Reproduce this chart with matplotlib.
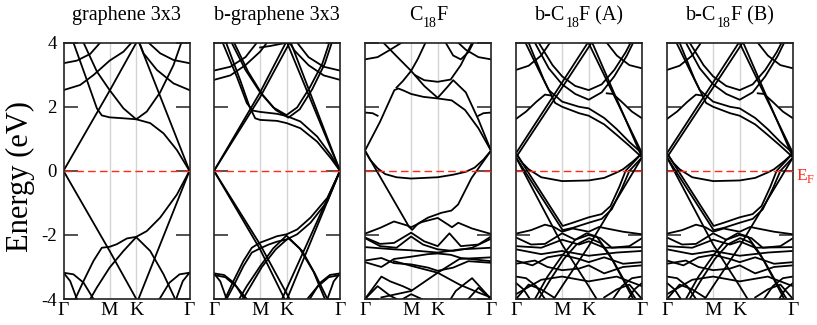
import matplotlib
matplotlib.use("Agg")
import matplotlib.pyplot as plt

plt.rcParams["font.family"] = ["Liberation Serif", "DejaVu Serif"]
plt.rcParams["axes.unicode_minus"] = False

# titles as (text, is_subscript) pieces, the subscripts sit low like in the source
titles = [
    [("graphene 3x3", False)],
    [("b-graphene 3x3", False)],
    [("C", False), ("18", True), ("F", False)],
    [("b-C", False), ("18", True), ("F (A)", False)],
    [("b-C", False), ("18", True), ("F (B)", False)],
]
kticks = [0.0, 0.366, 0.577, 1.0]
klabels = ["Γ", "M", "K", "Γ"]
yticks = [-4, -2, 0, 2, 4]

# bands as (k, E) points, k runs Γ(0) - M - K - Γ(1)
graphene_bands = [
    [(0, 0), (0.366, 2.5), (0.585, 4.05)],
    [(0.595, 4.05), (1, 0)],
    [(0, 0), (0.366, -2.5), (0.585, -4.05)],
    [(0.59, -4.05), (1, 0)],
    [(0.079, 4.0), (0.185, 2.84), (0.265, 1.95), (0.304, 1.73), (0.366, 1.67), (0.476, 1.64),
     (0.577, 1.61), (0.688, 1.49), (0.794, 1.17), (0.9, 0.65), (1, 0)],
    [(0.159, 4.0), (0.265, 3.1), (0.366, 2.52), (0.476, 1.95), (0.577, 1.61), (0.661, 1.85),
     (0.767, 2.45), (0.873, 3.3), (0.935, 4.0)],
    [(0, 3.36), (0.106, 3.44), (0.212, 3.65), (0.291, 4.0)],
    [(0, 2.52), (0.132, 2.68), (0.238, 2.99), (0.366, 3.44), (0.476, 3.72), (0.54, 4.0)],
    [(1, 3.36), (0.873, 3.46), (0.767, 3.67), (0.675, 4.0)],
    [(1, 2.52), (0.873, 2.73), (0.741, 3.15), (0.635, 3.67), (0.603, 4.0)],
    [(1, 0), (0.9, -0.74), (0.767, -1.46), (0.661, -1.88), (0.577, -2.06), (0.503, -2.11),
     (0.423, -2.29), (0.366, -2.37), (0.304, -2.4), (0.238, -2.81), (0.159, -3.44), (0.093, -4.0)],
    [(0.212, -4.0), (0.265, -3.64), (0.366, -3.02), (0.476, -2.5), (0.577, -2.07), (0.688, -2.5),
     (0.794, -3.23), (0.886, -4.0)],
    [(0, -3.18), (0.079, -3.23), (0.159, -3.49), (0.238, -4.0)],
    [(0, -3.18), (0.053, -3.44), (0.106, -4.0)],
    [(1, -3.18), (0.921, -3.23), (0.841, -3.49), (0.762, -4.0)],
    [(1, -3.18), (0.947, -3.44), (0.894, -4.0)],
]

bgraphene_bands = [
    [(0, 0), (0.366, 2.45), (0.57, 4.0)],
    [(0, 0), (0.366, 2.3), (0.6, 4.0)],
    [(0.58, 4.0), (1, 0)],
    [(0.61, 4.0), (1, 0)],
    [(0, 0), (0.366, -2.45), (0.56, -4.0)],
    [(0, 0), (0.366, -2.3), (0.6, -4.0)],
    [(0.58, -4.0), (1, 0)],
    [(0.54, -4.0), (1, 0)],
    [(0.069, 4.0), (0.181, 2.94), (0.261, 2.11), (0.309, 1.88), (0.366, 1.84), (0.5, 1.78),
     (0.577, 1.71), (0.686, 1.54), (0.819, 1.07), (0.926, 0.5), (1, 0)],
    [(0.096, 4.0), (0.207, 2.84), (0.282, 2.0), (0.327, 1.64), (0.366, 1.59), (0.5, 1.56),
     (0.577, 1.49), (0.686, 1.33), (0.819, 0.91), (0.926, 0.4), (1, 0)],
    [(0.14, 4.0), (0.25, 3.15), (0.366, 2.45), (0.47, 1.98), (0.575, 1.74), (0.66, 1.98),
     (0.76, 2.6), (0.86, 3.35), (0.915, 4.0)],
    [(0.16, 4.0), (0.27, 3.1), (0.38, 2.4), (0.49, 1.9), (0.59, 1.66), (0.68, 1.92),
     (0.78, 2.55), (0.88, 3.35), (0.935, 4.0)],
    [(0, 3.13), (0.13, 3.25), (0.25, 3.55), (0.34, 4.0)],
    [(0, 2.84), (0.13, 2.98), (0.25, 3.3), (0.366, 3.72), (0.42, 4.0)],
    [(1, 3.13), (0.87, 3.25), (0.75, 3.55), (0.66, 4.0)],
    [(1, 2.84), (0.87, 2.98), (0.75, 3.3), (0.64, 3.75), (0.6, 4.0)],
    [(0.366, 3.85), (0.45, 3.9), (0.577, 4.0)],
    [(1, 0), (0.9, -0.84), (0.766, -1.46), (0.66, -1.83), (0.577, -1.98), (0.5, -2.04),
     (0.434, -2.14), (0.366, -2.24), (0.3, -2.4), (0.234, -2.81), (0.154, -3.44), (0.088, -4.0)],
    [(1, 0), (0.9, -0.95), (0.766, -1.62), (0.66, -1.98), (0.577, -2.14), (0.5, -2.21),
     (0.434, -2.3), (0.366, -2.42), (0.3, -2.55), (0.234, -2.97), (0.154, -3.6), (0.1, -4.0)],
    [(0.2, -4.0), (0.26, -3.6), (0.366, -2.98), (0.47, -2.42), (0.575, -2.02), (0.68, -2.42),
     (0.79, -3.15), (0.88, -4.0)],
    [(0.23, -4.0), (0.29, -3.6), (0.38, -3.0), (0.49, -2.45), (0.59, -2.1), (0.7, -2.5),
     (0.8, -3.2), (0.9, -4.0)],
    [(0, -3.2), (0.08, -3.25), (0.16, -3.5), (0.24, -4.0)],
    [(0, -3.25), (0.09, -3.32), (0.18, -3.62), (0.26, -4.0)],
    [(0, -3.2), (0.05, -3.45), (0.1, -4.0)],
    [(1, -3.2), (0.92, -3.25), (0.84, -3.5), (0.76, -4.0)],
    [(1, -3.25), (0.91, -3.32), (0.82, -3.62), (0.74, -4.0)],
    [(1, -3.2), (0.95, -3.45), (0.9, -4.0)],
]

c18f_bands = [
    [(0, 0.63), (0.119, 1.53), (0.233, 2.52), (0.265, 2.57), (0.31, 2.5), (0.366, 2.4),
     (0.463, 2.31), (0.577, 2.26), (0.688, 2.2), (0.794, 1.9), (0.9, 1.33), (1, 0.63)],
    [(0.146, 4.0), (0.25, 3.58), (0.366, 3.12), (0.47, 2.65), (0.577, 2.28), (0.65, 2.6),
     (0.70, 2.83), (0.8, 2.45), (0.9, 1.6), (1, 0.63)],
    [(0.48, 4.0), (0.42, 3.5), (0.366, 3.12), (0.3, 2.8), (0.25, 2.6)],
    [(0.4, 2.98), (0.47, 2.83), (0.577, 2.78), (0.68, 2.85), (0.76, 3.3), (0.85, 4.0)],
    [(0, 3.48), (0.1, 3.55), (0.2, 3.78), (0.29, 4.0)],
    [(1, 3.48), (0.9, 3.55), (0.8, 3.78), (0.74, 4.0)],
    [(0.64, 4.0), (0.7, 3.6), (0.76, 3.48), (0.82, 3.7), (0.86, 4.0)],
    [(0, 1.82), (0.06, 1.8), (0.1, 1.72)],
    [(1, 1.82), (0.94, 1.8), (0.9, 1.72)],
    [(0, 0.63), (0.04, 0.35), (0.1, 0.08), (0.16, -0.1), (0.25, -0.2), (0.366, -0.24),
     (0.577, -0.2), (0.7, -0.12), (0.8, -0.03), (0.87, 0.1), (0.94, 0.35), (1, 0.63)],
    [(0, 0.63), (0.35, -1.75), (0.375, -1.84), (0.42, -1.65), (0.5, -1.46), (0.606, -1.31),
     (0.686, -1.24), (0.739, -1.05), (0.793, -0.63), (0.846, -0.22), (0.886, 0.0), (1, 0.63)],
    [(0, -1.96), (0.12, -1.78), (0.23, -1.58), (0.33, -1.7), (0.366, -1.76), (0.45, -1.6),
     (0.577, -1.47), (0.66, -1.68), (0.69, -1.76), (0.74, -1.62), (0.85, -1.8), (1, -1.97)],
    [(0, -2.08), (0.12, -2.28), (0.23, -2.25), (0.366, -1.93), (0.47, -2.2), (0.577, -2.35),
     (0.67, -1.95), (0.76, -2.35), (0.9, -2.3), (1, -2.05)],
    [(0, -2.1), (0.12, -2.35), (0.25, -2.4), (0.366, -2.05), (0.46, -2.3), (0.577, -2.45),
     (0.7, -2.5), (0.85, -2.4), (1, -2.12)],
    [(0, -2.38), (0.23, -2.45), (0.366, -2.48), (0.577, -2.55), (0.76, -2.45), (1, -2.4)],
    [(0, -2.85), (0.13, -3.0), (0.23, -2.75), (0.366, -2.68), (0.5, -2.6), (0.577, -2.58),
     (0.68, -2.62), (0.76, -2.72), (1, -2.82)],
    [(0, -2.8), (0.13, -2.72), (0.23, -2.88), (0.366, -2.92), (0.5, -3.02), (0.577, -3.12),
     (0.7, -3.02), (0.82, -2.82), (1, -2.87)],
    [(0.23, -2.82), (0.4, -3.0), (0.577, -3.18), (0.75, -3.55), (0.9, -3.8), (1, -3.95)],
    [(0.13, -3.95), (0.366, -3.75), (0.577, -3.18), (0.75, -2.75), (1, -2.7)],
    [(0, -4.0), (0.13, -3.3), (0.2, -3.45), (0.3, -3.6), (0.366, -3.72)],
    [(0, -4.0), (0.1, -3.6), (0.2, -3.9), (0.25, -4.0)],
    [(1, -4.0), (0.85, -3.35), (0.8, -3.5), (0.72, -3.75), (0.68, -4.0)],
    [(1, -4.0), (0.9, -3.65), (0.82, -4.0)],
    [(0.3, -4.0), (0.366, -3.85), (0.45, -4.0)],
]

bc18f_a_bands = [
    [(0, 0.55), (0.366, 2.76), (0.57, 4.0)],
    [(0, 0.42), (0.366, 2.6), (0.6, 4.0)],
    [(0.575, 4.0), (1, 0.55)],
    [(0.605, 4.0), (1, 0.42)],
    [(0.075, 4.0), (0.18, 3.15), (0.26, 2.52), (0.366, 2.16), (0.5, 2.0), (0.577, 1.95),
     (0.7, 1.65), (0.8, 1.3), (0.9, 0.9), (1, 0.55)],
    [(0.1, 4.0), (0.22, 2.85), (0.31, 2.12), (0.366, 2.0), (0.5, 1.8), (0.577, 1.72),
     (0.7, 1.45), (0.8, 1.12), (0.9, 0.78), (1, 0.42)],
    [(0.15, 4.0), (0.26, 3.2), (0.366, 2.7), (0.47, 2.4), (0.577, 2.22), (0.68, 2.45),
     (0.78, 2.95), (0.88, 3.6), (0.93, 4.0)],
    [(0.18, 4.0), (0.29, 3.3), (0.366, 2.95), (0.47, 2.65), (0.577, 2.52), (0.68, 2.7),
     (0.78, 3.15), (0.87, 3.7), (0.91, 4.0)],
    [(0, 3.15), (0.1, 3.28), (0.2, 3.6), (0.27, 4.0)],
    [(0, 1.62), (0.08, 1.85), (0.16, 2.15), (0.23, 2.38), (0.28, 2.35)],
    [(1, 3.2), (0.9, 3.3), (0.8, 3.6), (0.72, 4.0)],
    [(1, 1.64), (0.92, 1.85), (0.84, 2.15), (0.77, 2.4), (0.72, 2.42)],
    [(0, 0.55), (0.05, 0.25), (0.1, 0.05), (0.2, -0.2), (0.366, -0.32), (0.577, -0.3),
     (0.7, -0.22), (0.8, -0.05), (0.85, 0.05), (0.93, 0.3), (1, 0.55)],
    [(0, 0.55), (0.37, -1.72), (0.45, -1.62), (0.577, -1.45), (0.68, -1.35), (0.75, -1.1),
     (0.82, -0.5), (0.87, 0), (1, 0.55)],
    [(0, 0.42), (0.37, -1.85), (0.45, -1.78), (0.577, -1.62), (0.68, -1.5), (0.76, -1.2),
     (0.84, -0.55), (0.9, 0), (1, 0.42)],
    [(0, 0.42), (0.366, -2.3), (0.577, -3.6), (0.64, -4.0)],
    [(1, 0.42), (0.577, -2.35), (0.366, -3.6), (0.30, -4.0)],
    [(0, -1.96), (0.12, -1.85), (0.23, -1.68), (0.3, -1.75), (0.366, -1.9), (0.45, -1.8),
     (0.577, -1.9), (0.66, -1.75), (0.72, -1.8), (0.85, -1.9), (1, -1.98)],
    [(0, -2.08), (0.12, -2.3), (0.23, -2.28), (0.366, -1.95), (0.47, -2.15), (0.577, -2.0),
     (0.67, -2.1), (0.76, -2.4), (0.9, -2.35), (1, -2.1)],
    [(0, -2.35), (0.2, -2.4), (0.366, -2.15), (0.5, -2.3), (0.577, -2.2), (0.7, -2.4), (1, -2.38)],
    [(0, -2.45), (0.2, -2.6), (0.366, -2.5), (0.577, -2.65), (0.8, -2.55), (1, -2.5)],
    [(0, -2.8), (0.13, -2.95), (0.25, -2.7), (0.366, -2.62), (0.5, -2.75), (0.577, -2.85),
     (0.7, -2.7), (0.85, -2.9), (1, -2.85)],
    [(0, -2.9), (0.15, -2.8), (0.25, -3.0), (0.366, -3.1), (0.5, -3.05), (0.577, -2.95),
     (0.7, -3.2), (0.85, -3.0), (1, -2.95)],
    [(0.15, -4.0), (0.25, -3.3), (0.366, -2.65), (0.47, -2.15), (0.56, -1.95), (0.64, -2.05),
     (0.74, -2.6), (0.85, -3.4), (0.93, -4.0)],
    [(0.18, -4.0), (0.28, -3.35), (0.38, -2.75), (0.48, -2.3), (0.58, -2.1), (0.67, -2.25),
     (0.77, -2.8), (0.87, -3.5), (0.95, -4.0)],
    [(0, -3.3), (0.08, -3.35), (0.16, -3.6), (0.23, -4.0)],
    [(0, -3.5), (0.06, -3.7), (0.11, -4.0)],
    [(0, -4.0), (0.1, -3.55), (0.2, -3.7), (0.3, -3.95)],
    [(1, -3.3), (0.92, -3.35), (0.84, -3.6), (0.77, -4.0)],
    [(1, -3.5), (0.94, -3.7), (0.89, -4.0)],
    [(1, -4.0), (0.9, -3.55), (0.8, -3.7), (0.7, -3.95)],
    [(0, -3.85), (0.2, -3.4), (0.366, -3.3), (0.577, -3.45), (0.8, -3.3), (1, -3.6)],
]

# (B) is drawn the same as (A) in the source figure
bc18f_b_bands = bc18f_a_bands

panels = [graphene_bands, bgraphene_bands, c18f_bands, bc18f_a_bands, bc18f_b_bands]

W, H = 817, 325
fig = plt.figure(figsize=(W / 100, H / 100), dpi=100)
renderer = fig.canvas.get_renderer()
lefts = [63.5, 214, 365, 516, 667]


def pieces_text(pieces, x_px, y_px, size, sub_size, sub_drop, color="black", center=True):
    # lay out text pieces side by side, subscripts smaller and dropped
    texts = []
    for s, is_sub in pieces:
        t = fig.text(0, 0, s, fontsize=sub_size if is_sub else size, color=color,
                     ha="left", va="baseline")
        w = t.get_window_extent(renderer).width
        texts.append((t, is_sub, w))
    total = sum(w for _, _, w in texts)
    x = x_px - total / 2 if center else x_px
    for t, is_sub, w in texts:
        y = y_px - sub_drop if is_sub else y_px
        t.set_position((x / W, y / H))
        x += w


for i, bands in enumerate(panels):
    ax = fig.add_axes([lefts[i] / W, 26 / H, 126 / W, 256.3 / H])
    for kv in kticks[1:3]:
        ax.axvline(kv, color="#d4d4d4", lw=1.0, zorder=0)
    for band in bands:
        k, e = zip(*band)
        ax.plot(k, e, color="black", lw=1.3, solid_joinstyle="round", zorder=2)
    ax.axhline(0, color="#ff2a1a", lw=1.0, ls=(0, (5.5, 3)), zorder=3)
    ax.set_xlim(0, 1)
    ax.set_ylim(-4, 4)
    ax.set_xticks(kticks, klabels)
    ax.set_yticks(yticks)
    ax.tick_params(axis="x", length=0, pad=2, labelsize=14)
    ax.tick_params(axis="y", direction="in", length=10, width=1.2, color="#333333",
                   left=True, right=True, labelleft=(i == 0), labelsize=13.5, pad=5)
    for s in ax.spines.values():
        s.set_linewidth(1.2)
        s.set_color("#222222")
    pieces_text(titles[i], lefts[i] + 63, H - 20, 14.5, 10, 7)

fig.text(20 / W, 1 - 176 / H, "Energy (eV)", rotation=90, fontsize=22, ha="center", va="center")
pieces_text([("E", False), ("F", True)], 796, H - 180, 12.5, 9, 3, color="#ff2a1a", center=False)

fig.savefig("out.png", dpi=100)
